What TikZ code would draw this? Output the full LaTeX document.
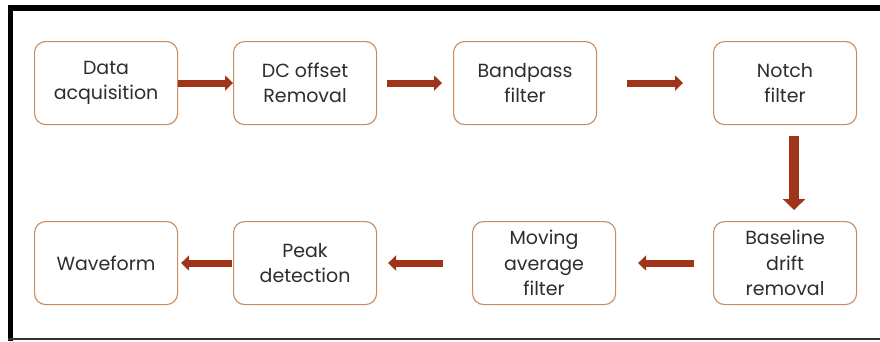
\documentclass[tikz,border=0pt]{standalone}
\usepackage{fontspec}
\setmainfont{Poppins}
\usetikzlibrary{arrows.meta}
\definecolor{boxline}{RGB}{200,140,95}
\definecolor{arrowred}{RGB}{160,52,26}
\definecolor{txt}{RGB}{45,45,45}
\tikzset{
  stepbox/.style={draw=boxline, line width=1.1pt, rounded corners=11pt, fill=white,
    minimum width=143pt, minimum height=83pt, align=center, text=txt,
    font=\fontsize{19}{25.5}\selectfont, inner sep=0pt, anchor=north west},
  flow/.style={draw=arrowred, line width=7pt, -{Triangle[length=8pt,width=15pt]}},
  flowdown/.style={draw=arrowred, line width=10pt, -{Triangle[length=11pt,width=22pt]}}
}
\begin{document}
\begin{tikzpicture}[x=1pt,y=-1pt]
\useasboundingbox (0,0) rectangle (880,341);
\fill[white] (0,0) rectangle (880,341);
% frame
\draw[line width=6pt] (8,8) -- (880,8);
\draw[line width=5pt] (10.5,5) -- (10.5,341);
\draw[line width=2pt, black!80] (8,338.5) -- (880,338.5);
% row 1
\node[stepbox] (a) at (34,41) {Data\\acquisition};
\node[stepbox] (b) at (233,41) {DC offset\\Removal};
\node[stepbox] (c) at (453,41) {Bandpass\\filter};
\node[stepbox] (d) at (713,41) {Notch\\filter};
% row 2
\node[stepbox] (h) at (34,221) {Waveform};
\node[stepbox] (g) at (233,221) {Peak\\detection};
\node[stepbox] (f) at (472,221) {Moving\\average\\filter};
\node[stepbox] (e) at (713,221) {Baseline\\drift\\removal};
% arrows
\draw[flow] (a.east) -- (b.west);
\draw[flow] ([xshift=10pt]b.east) -- ([xshift=-11pt]c.west);
\draw[flow] ([xshift=30pt]c.east) -- ([xshift=-30pt]d.west);
\draw[flowdown] ([xshift=9pt,yshift=-11pt]d.south) -- ([xshift=9pt,yshift=11pt]d.south |- e.north);
\draw[flow] ([xshift=-19pt]e.west) -- ([xshift=22pt]f.east);
\draw[flow] ([xshift=-29pt]f.west) -- ([xshift=11pt]g.east);
\draw[flow] ([xshift=-1pt]g.west) -- ([xshift=3pt]h.east);
\end{tikzpicture}
\end{document}
